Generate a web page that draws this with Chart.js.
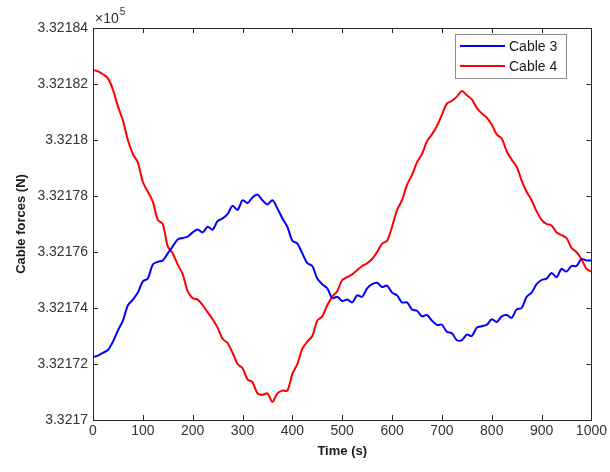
<!DOCTYPE html>
<html>
<head>
<meta charset="utf-8">
<script src="https://cdn.jsdelivr.net/npm/chart.js@4/dist/chart.umd.min.js"></script>
<style>
  html, body { margin: 0; padding: 0; background: #fff; }
  #wrap { width: 610px; height: 472px; position: relative; }
</style>
</head>
<body>
<div id="wrap"><canvas id="chart"></canvas></div>
<script>
// time axis (s)
var times = [0,10,20,30,40,50,60,70,80,90,100,110,120,130,140,150,160,170,180,190,
  200,210,220,230,240,250,260,270,280,290,300,310,320,330,340,350,360,370,380,390,
  400,410,420,430,440,450,460,470,480,490,500,510,520,530,540,550,560,570,580,590,
  600,610,620,630,640,650,660,670,680,690,700,710,720,730,740,750,760,770,780,790,
  800,810,820,830,840,850,860,870,880,890,900,910,920,930,940,950,960,970,980,990,1000];

// cable forces (N)
var cable3 = [332172.25,332172.3,332172.4,332172.5,332172.8,332173.2,332173.55,332174.1,332174.3,332174.55,
  332174.95,332175.05,332175.55,332175.65,332175.7,332175.95,332176.2,332176.45,332176.5,332176.55,
  332176.7,332176.8,332176.7,332176.9,332176.8,332177.1,332177.2,332177.35,332177.65,332177.5,
  332177.85,332177.75,332177.95,332178.05,332177.85,332177.7,332177.85,332177.55,332177.2,332176.9,
  332176.4,332176.3,332175.95,332175.6,332175.5,332175.05,332174.85,332174.7,332174.35,332174.4,
  332174.25,332174.3,332174.2,332174.45,332174.4,332174.7,332174.85,332174.9,332174.75,332174.8,
  332174.55,332174.45,332174.2,332174.2,332173.95,332173.9,332173.7,332173.75,332173.55,332173.4,
  332173.4,332173.15,332173.1,332172.85,332172.85,332173.05,332173.0,332173.3,332173.35,332173.4,
  332173.6,332173.5,332173.7,332173.75,332173.65,332173.95,332174.0,332174.4,332174.55,332174.85,
  332175.0,332175.05,332175.25,332175.1,332175.4,332175.3,332175.5,332175.5,332175.75,332175.7,332175.7];

var cable4 = [332182.5,332182.45,332182.35,332182.2,332181.8,332181.2,332180.7,332180.0,332179.5,332179.2,
  332178.5,332178.15,332177.8,332177.15,332177.0,332176.2,332175.95,332175.55,332175.2,332174.6,
  332174.35,332174.3,332174.1,332173.85,332173.6,332173.3,332172.9,332172.75,332172.4,332172.0,
  332171.85,332171.45,332171.35,332170.95,332170.9,332170.95,332170.65,332170.95,332171.05,332171.05,
  332171.65,332172.0,332172.55,332172.8,332173.0,332173.55,332173.7,332174.1,332174.4,332174.6,
  332175.0,332175.1,332175.2,332175.35,332175.5,332175.6,332175.75,332176.0,332176.3,332176.4,
  332176.9,332177.5,332177.85,332178.4,332178.75,332179.2,332179.5,332179.95,332180.2,332180.5,
  332180.9,332181.3,332181.4,332181.55,332181.75,332181.6,332181.45,332181.15,332180.95,332180.8,
  332180.55,332180.2,332180.05,332179.6,332179.3,332179.05,332178.55,332178.15,332177.85,332177.45,
  332177.15,332177.0,332176.95,332176.7,332176.6,332176.5,332176.15,332176.0,332175.75,332175.4,332175.3];

var seriesNames = ['Cable 3', 'Cable 4'];
var seriesColors = ['#0000ff', '#ff0000'];

var xMin = 0, xMax = 1000, xStep = 100;
var yMin = 332170, yMax = 332184, yStep = 2;
var yExponent = 5;

var axisColor = '#262626';
var labelColor = '#333333';
var fontFamily = '"Liberation Sans", Arial, sans-serif';

function toPoints(ys) {
  var pts = [];
  for (var i = 0; i < times.length; i++) {
    pts.push({x: times[i], y: ys[i]});
  }
  return pts;
}

// draws the matlab style box, inward ticks, exponent and legend
var matlabBox = {
  id: 'matlabBox',
  afterDraw: function(chart) {
    var ctx = chart.ctx;
    var a = chart.chartArea;
    var xs = chart.scales.x, ys = chart.scales.y;
    var tl = 5;
    ctx.save();
    ctx.strokeStyle = axisColor;
    ctx.lineWidth = 1;
    ctx.beginPath();
    ctx.rect(Math.round(a.left) + 0.5, Math.round(a.top) + 0.5,
             Math.round(a.right - a.left), Math.round(a.bottom - a.top));
    xs.ticks.forEach(function(t) {
      var px = Math.round(xs.getPixelForValue(t.value)) + 0.5;
      ctx.moveTo(px, a.bottom); ctx.lineTo(px, a.bottom - tl);
      ctx.moveTo(px, a.top); ctx.lineTo(px, a.top + tl);
    });
    ys.ticks.forEach(function(t) {
      var py = Math.round(ys.getPixelForValue(t.value)) + 0.5;
      ctx.moveTo(a.left, py); ctx.lineTo(a.left + tl, py);
      ctx.moveTo(a.right, py); ctx.lineTo(a.right - tl, py);
    });
    ctx.stroke();

    // exponent label
    ctx.fillStyle = labelColor;
    ctx.textBaseline = 'alphabetic';
    ctx.textAlign = 'left';
    ctx.font = '14px ' + fontFamily;
    ctx.fillText('\u00d710', a.left + 2, a.top - 5);
    var w = ctx.measureText('\u00d710').width;
    ctx.font = '10px ' + fontFamily;
    ctx.fillText(String(yExponent), a.left + 2 + w + 1, a.top - 13);

    // legend
    var lx = 455, ly = 34, lw = 111, lh = 44;
    ctx.fillStyle = '#ffffff';
    ctx.fillRect(lx, ly, lw, lh);
    ctx.strokeStyle = '#8c8c8c';
    ctx.lineWidth = 1;
    ctx.strokeRect(lx + 0.5, ly + 0.5, lw, lh);
    ctx.font = '14px ' + fontFamily;
    ctx.textBaseline = 'middle';
    chart.data.datasets.forEach(function(ds, i) {
      var y = ly + 12 + i * 20;
      ctx.strokeStyle = ds.borderColor;
      ctx.lineWidth = 2;
      ctx.beginPath();
      ctx.moveTo(lx + 5, y); ctx.lineTo(lx + 50, y);
      ctx.stroke();
      ctx.fillStyle = '#1a1a1a';
      ctx.fillText(ds.label, lx + 54, y + 1);
    });
    ctx.restore();
  }
};

var ctx = document.getElementById('chart');
new Chart(ctx, {
  type: 'line',
  data: {
    datasets: [
      { label: seriesNames[0], data: toPoints(cable3), borderColor: seriesColors[0], borderWidth: 2,
        pointRadius: 0, tension: 0.3, fill: false },
      { label: seriesNames[1], data: toPoints(cable4), borderColor: seriesColors[1], borderWidth: 2,
        pointRadius: 0, tension: 0.3, fill: false }
    ]
  },
  options: {
    responsive: true,
    maintainAspectRatio: false,
    animation: false,
    layout: { padding: { left: 0, right: 17, top: 28, bottom: 0 } },
    plugins: { legend: { display: false }, tooltip: { enabled: false } },
    scales: {
      x: {
        type: 'linear', min: xMin, max: xMax,
        grid: { display: false, drawTicks: false },
        border: { display: false },
        ticks: { stepSize: xStep, padding: 3, color: labelColor, maxRotation: 0,
                 font: { family: fontFamily, size: 14 },
                 callback: function(v) { return String(v); } },
        title: { display: true, text: 'Time (s)', color: '#1a1a1a',
                 font: { family: fontFamily, size: 13, weight: 'bold' },
                 padding: { top: 0, bottom: 13 } },
        afterFit: function(s) { s.height = 52; }
      },
      y: {
        min: yMin, max: yMax,
        grid: { display: false, drawTicks: false },
        border: { display: false },
        ticks: { stepSize: yStep, padding: 5, color: labelColor,
                 font: { family: fontFamily, size: 14 },
                 callback: function(v) { return String(parseFloat((v / Math.pow(10, yExponent)).toFixed(6))); } },
        title: { display: true, text: 'Cable forces (N)', color: '#1a1a1a',
                 font: { family: fontFamily, size: 13, weight: 'bold' },
                 padding: { top: 14, bottom: 0 } },
        afterFit: function(s) { s.width = 93; }
      }
    }
  },
  plugins: [matlabBox]
});
</script>
</body>
</html>
